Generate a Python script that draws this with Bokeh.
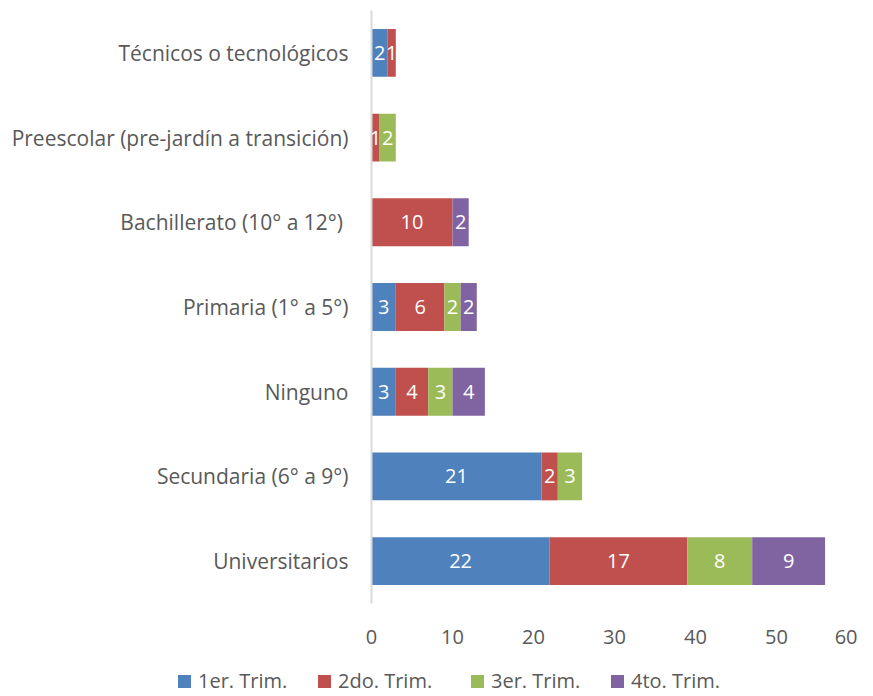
from bokeh.plotting import figure
from bokeh.layouts import column
from bokeh.models import ColumnDataSource, FactorRange, Range1d, Div
from bokeh.core.properties import value
from bokeh.embed import file_html
from bokeh.resources import INLINE

categories = ["Universitarios", "Secundaria (6° a 9°)", "Ninguno", "Primaria (1° a 5°)",
              "Bachillerato (10° a 12°) ", "Preescolar (pre-jardín a transición)",
              "Técnicos o tecnológicos"]
series = ["1er. Trim.", "2do. Trim.", "3er. Trim.", "4to. Trim."]
t1 = [22, 21, 3, 3, 0, 0, 2]
t2 = [17, 2, 4, 6, 10, 1, 1]
t3 = [8, 3, 3, 2, 0, 2, 0]
t4 = [9, 0, 4, 2, 2, 0, 0]
x_ticks = [0, 10, 20, 30, 40, 50, 60]
colors = ["#4F81BD", "#C0504D", "#9BBB59", "#8064A2"]

FONT = "Open Sans"
keys = ["t1", "t2", "t3", "t4"]
data = {"cat": categories, "t1": t1, "t2": t2, "t3": t3, "t4": t4}
src = ColumnDataSource(data)

p = figure(y_range=FactorRange(*categories), x_range=Range1d(0, 60),
           width=857, height=652, output_backend="svg", toolbar_location=None,
           min_border_left=371, min_border_right=0, min_border_top=10, min_border_bottom=49)

renderers = p.hbar_stack(keys, y="cat", height=0.565, color=colors, source=src, line_color=None)

# data labels
lx, ly, lt = [], [], []
cols = [t1, t2, t3, t4]
for i, c in enumerate(categories):
    acc = 0
    for s in cols:
        v = s[i]
        if v:
            lx.append(acc + v / 2)
            ly.append(c)
            lt.append(str(v))
        acc += v
p.text(x=lx, y=ly, text=lt, text_align="center", text_baseline="middle",
       text_color="white", text_font=value(FONT), text_font_size="20px")

p.xgrid.visible = False
p.ygrid.visible = False
p.outline_line_color = None

xa = p.xaxis[0]
xa.ticker = x_ticks
xa.axis_line_color = None
xa.major_tick_line_color = None
xa.minor_tick_line_color = None
xa.major_label_text_color = "#595959"
xa.major_label_text_font = FONT
xa.major_label_text_font_size = "20px"
xa.major_label_standoff = 20

ya = p.yaxis[0]
ya.axis_line_color = "#D9D9D9"
ya.axis_line_width = 2
ya.major_tick_line_color = None
ya.minor_tick_line_color = None
ya.major_label_text_color = "#595959"
ya.major_label_text_font = FONT
ya.major_label_text_font_size = "21px"
ya.major_label_standoff = 17

# legend row as HTML below the plot
legend_x = [178, 318, 471, 611]
parts = []
for s, c, lxp in zip(series, colors, legend_x):
    parts.append(
        f'<span style="position:absolute;left:{lxp}px;top:23px;width:13px;height:13px;'
        f'background:{c};"></span>'
        f'<span style="position:absolute;left:{lxp + 20}px;top:17px;line-height:24px;'
        f'font-family:\'{FONT}\';font-size:20px;color:#595959;white-space:nowrap;">{s}</span>'
    )
legend_html = ('<div style="position:relative;width:857px;height:42px;">'
               + "".join(parts) + "</div>")
legend_div = Div(text=legend_html, width=857, height=42, margin=0)

open("out.html", "w").write(file_html(column(p, legend_div, spacing=0), INLINE))
